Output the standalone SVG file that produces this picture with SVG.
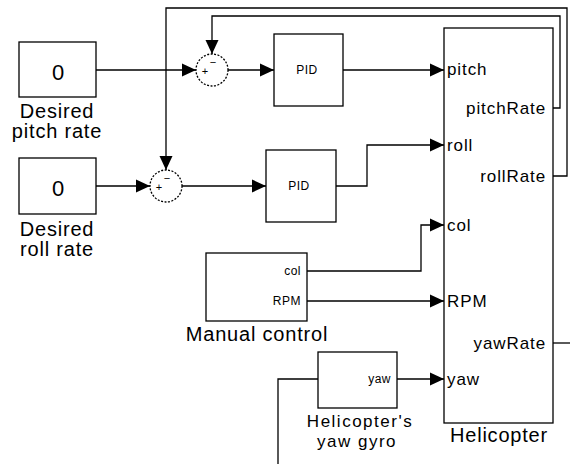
<svg xmlns="http://www.w3.org/2000/svg" width="570" height="464" viewBox="0 0 570 464">
<defs>
<marker id="ah" markerUnits="userSpaceOnUse" markerWidth="15" markerHeight="14" refX="14" refY="7" orient="auto">
<path d="M0,0.5 L14,7 L0,13.5 z" fill="#000"/>
</marker>
<style>
.box{fill:#fff;stroke:#000;stroke-width:1.3}
.ln{fill:none;stroke:#000;stroke-width:1.3}
.arr{marker-end:url(#ah)}
.lbl{font-family:"Liberation Sans",Arial,sans-serif;font-size:20px;letter-spacing:0.8px;fill:#000;text-anchor:middle}
.lbl2{font-family:"Liberation Sans",Arial,sans-serif;font-size:17px;letter-spacing:1.5px;fill:#000;text-anchor:middle}
.port{font-family:"Liberation Sans",Arial,sans-serif;font-size:17px;letter-spacing:0.9px;fill:#000}
.sm{font-family:"Liberation Sans",Arial,sans-serif;font-size:12px;letter-spacing:0.5px;fill:#000}
.sign{font-family:"Liberation Sans",Arial,sans-serif;font-size:11px;fill:#000;text-anchor:middle}
.num{font-family:"Liberation Sans",Arial,sans-serif;font-size:22px;fill:#000;text-anchor:middle}
</style>
</defs>
<rect width="570" height="464" fill="#fff"/>
<g id="connectors">
<path class="ln arr" d="M96,70 H196"/>
<path class="ln arr" d="M228,70 H274"/>
<path class="ln arr" d="M343,70 H444"/>
<path class="ln arr" d="M96,186 H150"/>
<path class="ln arr" d="M182,186 H266"/>
<path class="ln arr" d="M336,186 H367 V145 H444"/>
<path class="ln arr" d="M307,271 H421 V225 H444"/>
<path class="ln arr" d="M307,301 H444"/>
<path class="ln arr" d="M397,379 H444"/>
<path class="ln arr" d="M553,108 H560 V16 H212 V54"/>
<path class="ln arr" d="M553,176 H567 V8 H166 V170"/>
<path class="ln" d="M553,343 H570"/>
<path class="ln" d="M318,379 H278 V464"/>
</g>
<g id="desired_pitch">
<rect class="box" x="19" y="42" width="77" height="55"/>
<text class="num" x="58" y="80">0</text>
<text class="lbl" x="57" y="118">Desired</text>
<text class="lbl" x="57" y="138">pitch rate</text>
</g>
<g id="desired_roll">
<rect class="box" x="19" y="158" width="77" height="56"/>
<text class="num" x="58" y="196">0</text>
<text class="lbl" x="57" y="236">Desired</text>
<text class="lbl" x="57" y="256">roll rate</text>
</g>
<g id="sum_pitch">
<circle class="box" cx="212" cy="70" r="16" stroke-dasharray="2,1.5"/>
<text class="sign" x="205" y="75">+</text>
<text class="sign" x="213" y="66">−</text>
</g>
<g id="sum_roll">
<circle class="box" cx="166" cy="186" r="16" stroke-dasharray="2,1.5"/>
<text class="sign" x="159" y="191">+</text>
<text class="sign" x="167" y="182">−</text>
</g>
<g id="pid_pitch">
<rect class="box" x="274" y="34" width="69" height="72"/>
<text class="sm" x="307" y="74" text-anchor="middle">PID</text>
</g>
<g id="pid_roll">
<rect class="box" x="266" y="150" width="70" height="72"/>
<text class="sm" x="299" y="190" text-anchor="middle">PID</text>
</g>
<g id="manual_control">
<rect class="box" x="206" y="253" width="101" height="68"/>
<text class="sm" x="301" y="275" text-anchor="end">col</text>
<text class="sm" x="301" y="305" text-anchor="end">RPM</text>
<text class="lbl" x="257" y="341">Manual control</text>
</g>
<g id="yaw_gyro">
<rect class="box" x="318" y="352" width="79" height="56"/>
<text class="sm" x="391" y="383" text-anchor="end">yaw</text>
<text class="lbl2" x="360" y="427">Helicopter's</text>
<text class="lbl2" x="357" y="447">yaw gyro</text>
</g>
<g id="helicopter">
<rect class="box" x="444" y="28" width="109" height="395"/>
<text class="port" x="447" y="75">pitch</text>
<text class="port" x="546" y="114" text-anchor="end">pitchRate</text>
<text class="port" x="447" y="151">roll</text>
<text class="port" x="546" y="182" text-anchor="end">rollRate</text>
<text class="port" x="447" y="231">col</text>
<text class="port" x="447" y="307">RPM</text>
<text class="port" x="546" y="349" text-anchor="end">yawRate</text>
<text class="port" x="447" y="385">yaw</text>
<text class="lbl" x="499" y="442">Helicopter</text>
</g>
</svg>
